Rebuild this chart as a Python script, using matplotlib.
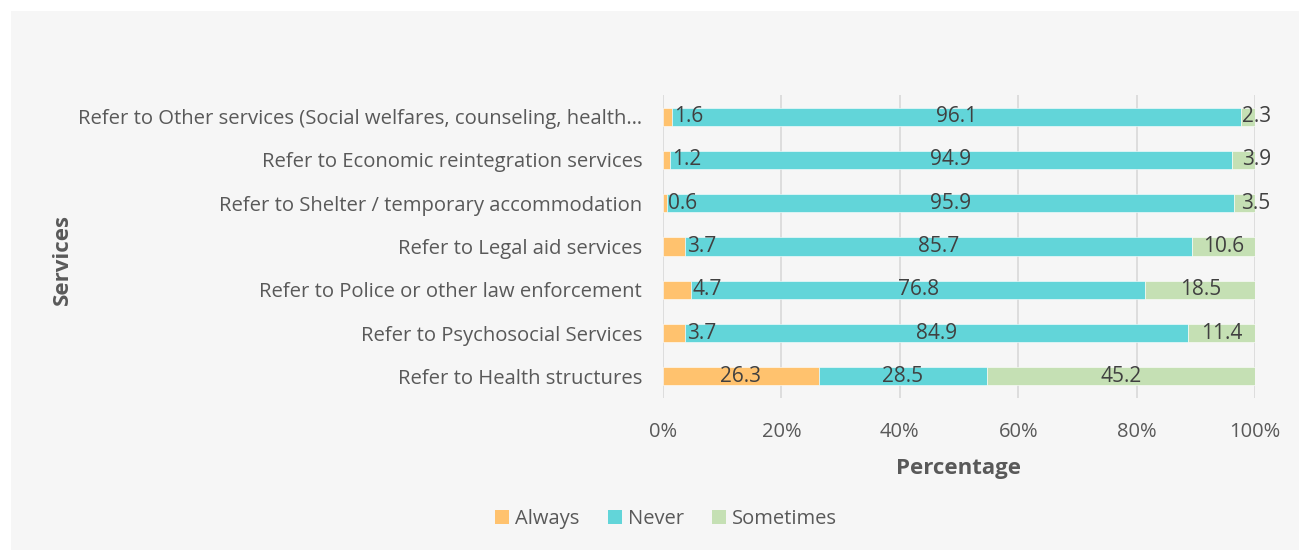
import matplotlib
matplotlib.use("Agg")
import matplotlib.pyplot as plt
from matplotlib.patches import Rectangle, Patch
import numpy as np

plt.rcParams['font.family'] = ['Open Sans', 'DejaVu Sans']

categories = [
    "Refer to Health structures",
    "Refer to Psychosocial Services",
    "Refer to Police or other law enforcement",
    "Refer to Legal aid services",
    "Refer to Shelter / temporary accommodation",
    "Refer to Economic reintegration services",
    "Refer to Other services (Social welfares, counseling, health\u2026",
]
always = [26.3, 3.7, 4.7, 3.7, 0.6, 1.2, 1.6]
never = [28.5, 84.9, 76.8, 85.7, 95.9, 94.9, 96.1]
sometimes = [45.2, 11.4, 18.5, 10.6, 3.5, 3.9, 2.3]
series_names = ["Always", "Never", "Sometimes"]
colors = ["#FFC26E", "#62D5D9", "#C5E0B4"]
xticks = [0, 20, 40, 60, 80, 100]

W, H = 1299, 550
fig = plt.figure(figsize=(W / 100, H / 100), dpi=100)
fig.patch.set_facecolor("white")
fig.patches.append(Rectangle((11 / W, 0), 1 - 11 / W, 1 - 11 / H, transform=fig.transFigure,
                             facecolor="#F6F6F6", edgecolor="none", zorder=-10))

ax = fig.add_axes([663 / W, 1 - 398 / H, (1255 - 663) / W, (398 - 95) / H])
ax.set_facecolor("none")

y = np.arange(len(categories))
a = np.array(always)
n = np.array(never)
s = np.array(sometimes)
bh = 0.42
ax.barh(y, a, height=bh, color=colors[0], edgecolor="white", linewidth=0.4, zorder=3)
ax.barh(y, n, left=a, height=bh, color=colors[1], edgecolor="white", linewidth=0.4, zorder=3)
ax.barh(y, s, left=a + n, height=bh, color=colors[2], edgecolor="white", linewidth=0.4, zorder=3)

lab_kw = dict(va="center", fontsize=15, color="#404040", zorder=5)
for i in range(len(categories)):
    if a[i] >= 5:
        ax.text(a[i] / 2, y[i], f"{a[i]:.1f}", ha="center", **lab_kw)
    else:
        ax.text(a[i] + 0.3, y[i], f"{a[i]:.1f}", ha="left", **lab_kw)
    ax.text(a[i] + n[i] / 2, y[i], f"{n[i]:.1f}", ha="center", **lab_kw)
    xs = a[i] + n[i] + s[i] / 2 if s[i] >= 5 else 100.2
    ax.text(xs, y[i], f"{s[i]:.1f}", ha="center", **lab_kw)

ax.set_xlim(0, 100)
ax.set_ylim(-0.5, len(categories) - 0.5)
ax.set_xticks(xticks)
ax.set_xticklabels([f"{t}%" for t in xticks])
ax.set_yticks(y)
ax.set_yticklabels(categories)
ax.tick_params(axis="x", length=0, pad=17, labelsize=14.5, labelcolor="#595959")
ax.tick_params(axis="y", length=0, pad=15, labelsize=14.6, labelcolor="#595959")
ax.grid(axis="x", color="#D9D9D9", linewidth=1.2, zorder=0)
for sp in ax.spines.values():
    sp.set_visible(False)

ax.set_xlabel("Percentage", fontsize=16, fontweight="bold", color="#595959", labelpad=12)
fig.text(62 / W, 1 - 260 / H, "Services", rotation=90, fontsize=16, fontweight="bold",
         color="#595959", ha="center", va="center")

handles = [Patch(facecolor=c, edgecolor="none") for c in colors]
fig.legend(handles, series_names, loc="center", bbox_to_anchor=(666 / W, 1 - 519 / H),
           ncol=3, frameon=False, fontsize=14.5, labelcolor="#595959",
           handlelength=0.7, handleheight=0.7, handletextpad=0.3, columnspacing=1.4)

fig.savefig("out.png", dpi=100, facecolor=fig.get_facecolor())
